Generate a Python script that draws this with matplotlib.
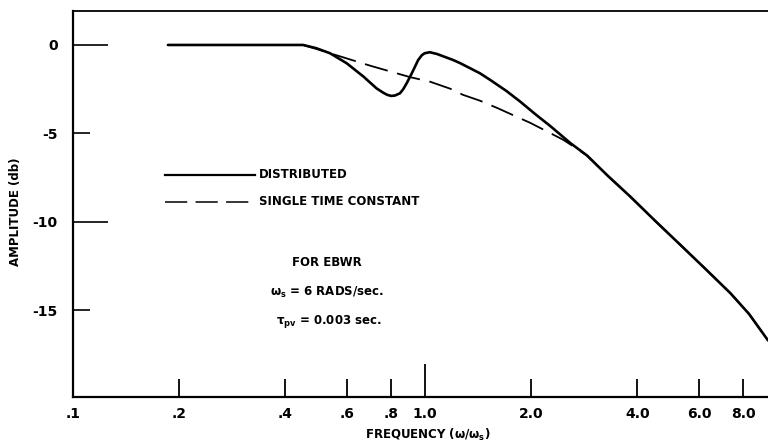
import matplotlib
matplotlib.use("Agg")
import matplotlib.pyplot as plt
from matplotlib.lines import Line2D

plt.rcParams['font.family'] = ['Liberation Sans Narrow', 'DejaVu Sans']
plt.rcParams['font.weight'] = 'bold'
plt.rcParams['lines.scale_dashes'] = False
plt.rcParams['mathtext.default'] = 'regular'

# ---- data ----
dist_freq = [0.186, 0.30, 0.45, 0.49, 0.537, 0.598, 0.668, 0.727, 0.76, 0.78, 0.80, 0.82,
             0.848, 0.866, 0.886, 0.916, 0.955, 0.978, 0.996, 1.03, 1.08, 1.20, 1.257,
             1.43, 1.53, 1.70, 1.86, 2.05, 2.27, 2.58, 2.88, 3.30, 3.82, 4.50, 5.30,
             6.20, 7.35, 8.30, 9.40]
dist_db = [0.0, 0.0, 0.0, -0.18, -0.47, -1.03, -1.79, -2.45, -2.70, -2.82, -2.88, -2.86,
           -2.73, -2.50, -2.16, -1.60, -0.85, -0.58, -0.47, -0.41, -0.51, -0.85, -1.03,
           -1.60, -1.98, -2.60, -3.20, -3.90, -4.60, -5.54, -6.25, -7.40, -8.57, -9.95,
           -11.30, -12.60, -14.03, -15.20, -16.70]

stc_freq = [0.186, 0.30, 0.45, 0.50, 0.537, 0.70, 0.906, 1.03, 1.18, 1.28, 1.43, 1.60,
            1.99, 2.47, 2.88, 3.30, 3.82, 4.50, 5.30, 6.20, 7.35, 8.30, 9.40]
stc_db = [0.0, 0.0, 0.0, -0.27, -0.47, -1.18, -1.82, -2.07, -2.48, -2.82, -3.15, -3.56,
          -4.41, -5.37, -6.25, -7.40, -8.57, -9.95, -11.30, -12.60, -14.03, -15.20, -16.70]

xtick_major = [1.0]
xtick_major_labels = ['1.0']
xtick_minor = [0.1, 0.2, 0.4, 0.6, 0.8, 2.0, 4.0, 6.0, 8.0]
xtick_minor_labels = ['.1', '.2', '.4', '.6', '.8', '2.0', '4.0', '6.0', '8.0']
ytick_major = [0, -10]
ytick_minor = [-5, -15]

W, H = 768, 447
fig = plt.figure(figsize=(W / 100, H / 100), dpi=100)
ax = fig.add_axes([73 / W, 50 / H, 695 / W, 386 / H])

ax.plot(stc_freq, stc_db, color='black', lw=1.3, dashes=(17, 7))
ax.plot(dist_freq, dist_db, color='black', lw=1.9, solid_capstyle='round',
        solid_joinstyle='round')

ax.set_xscale('log')
ax.set_xlim(0.1, 9.4)
ax.set_ylim(-19.9, 1.92)

ax.set_xticks(xtick_major)
ax.set_xticklabels(xtick_major_labels)
ax.set_xticks(xtick_minor, minor=True)
ax.set_xticklabels(xtick_minor_labels, minor=True)
ax.set_yticks(ytick_major)
ax.set_yticklabels([str(v) for v in ytick_major])
ax.set_yticks(ytick_minor, minor=True)
ax.set_yticklabels([str(v) for v in ytick_minor], minor=True)

ax.tick_params(axis='x', which='major', direction='in', length=24, width=1.3,
               pad=7, labelsize=10)
ax.tick_params(axis='x', which='minor', direction='in', length=13, width=1.3,
               pad=7, labelsize=10)
ax.tick_params(axis='y', which='major', direction='in', length=25, width=1.2,
               pad=11, labelsize=10)
ax.tick_params(axis='y', which='minor', direction='in', length=12.5, width=1.2,
               pad=11, labelsize=10)

for lab in ax.get_xticklabels(which='both') + ax.get_yticklabels(which='both'):
    lab.set_fontweight('bold')

ax.spines['right'].set_visible(False)
ax.spines['left'].set_linewidth(1.6)
ax.spines['bottom'].set_linewidth(1.6)
ax.spines['top'].set_linewidth(1.3)

# legend drawn by hand
def fx(px):
    return px / W

def fy(py):
    return 1 - py / H

fig.add_artist(Line2D([fx(165), fx(255)], [fy(175), fy(175)], color='black', lw=1.6))
fig.add_artist(Line2D([fx(165), fx(255)], [fy(202), fy(202)], color='black', lw=1.1,
                      dashes=(16, 6)))
fig.text(fx(259), fy(175), 'DISTRIBUTED', fontsize=8.5, fontweight='bold',
         va='center', ha='left')
fig.text(fx(259), fy(202), 'SINGLE TIME CONSTANT', fontsize=8.5, fontweight='bold',
         va='center', ha='left')

fig.text(fx(327), fy(262), 'FOR EBWR', fontsize=8.5, fontweight='bold',
         ha='center', va='center')
fig.text(fx(327), fy(292), r'$\omega_s$ = 6 RADS/sec.', fontsize=8.5, fontweight='bold',
         ha='center', va='center')
fig.text(fx(329), fy(321), r'$\tau_{pv}$ = 0.003 sec.', fontsize=8.5, fontweight='bold',
         ha='center', va='center')

fig.text(fx(428), fy(435), r'FREQUENCY $(\omega/\omega_s)$', fontsize=8.5,
         fontweight='bold', ha='center', va='center')
fig.text(fx(16), fy(212), 'AMPLITUDE (db)', fontsize=8.5, fontweight='bold',
         ha='center', va='center', rotation=90)

fig.savefig('out.png', dpi=100)
